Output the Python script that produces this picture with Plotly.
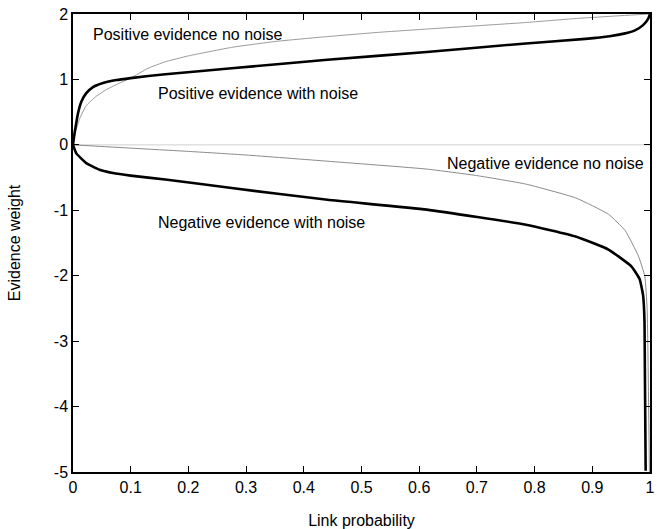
import plotly.graph_objects as go

# Positive evidence, no noise (thin gray)
pos_clean_x = [0, 0.002, 0.0046, 0.0115, 0.023, 0.04, 0.057, 0.077, 0.1, 0.13, 0.16, 0.2, 0.275, 0.35, 0.441, 0.53, 0.613, 0.7, 0.785, 0.87, 0.95, 1.0]
pos_clean_y = [0, 0.1, 0.2, 0.40, 0.60, 0.74, 0.84, 0.93, 1.02, 1.17, 1.27, 1.36, 1.49, 1.58, 1.655, 1.72, 1.77, 1.82, 1.87, 1.93, 1.975, 2.0]

# Positive evidence, with noise (thick black)
pos_noise_x = [0, 0.002, 0.0046, 0.0086, 0.0144, 0.023, 0.034, 0.052, 0.075, 0.1, 0.16, 0.275, 0.441, 0.613, 0.785, 0.888, 0.93, 0.955, 0.974, 0.988, 0.997, 1.0]
pos_noise_y = [0, 0.14, 0.28, 0.48, 0.66, 0.79, 0.88, 0.945, 0.99, 1.02, 1.08, 1.17, 1.30, 1.42, 1.55, 1.62, 1.66, 1.70, 1.75, 1.83, 1.93, 2.0]

# Negative evidence, no noise (thin gray)
neg_clean_x = [0, 0.1, 0.2, 0.3, 0.441, 0.613, 0.7, 0.785, 0.871, 0.928, 0.957, 0.98, 0.991, 0.995, 0.999]
neg_clean_y = [0, -0.05, -0.1, -0.155, -0.25, -0.37, -0.47, -0.6, -0.81, -1.06, -1.31, -1.70, -2.01, -2.5, -5]

# Negative evidence, with noise (thick black)
neg_noise_x = [0, 0.0058, 0.023, 0.046, 0.069, 0.1, 0.16, 0.275, 0.441, 0.613, 0.785, 0.871, 0.928, 0.968, 0.982, 0.988, 0.9905, 0.9925]
neg_noise_y = [0, -0.13, -0.28, -0.38, -0.43, -0.47, -0.53, -0.66, -0.84, -0.99, -1.22, -1.40, -1.60, -1.86, -2.05, -2.3, -2.7, -4.98]

zero_x = [0, 1]
zero_y = [0, 0]

x_ticks = [0, 0.1, 0.2, 0.3, 0.4, 0.5, 0.6, 0.7, 0.8, 0.9, 1]
x_labels = ["0", "0.1", "0.2", "0.3", "0.4", "0.5", "0.6", "0.7", "0.8", "0.9", "1"]
y_ticks = [-5, -4, -3, -2, -1, 0, 1, 2]
y_labels = ["-5", "-4", "-3", "-2", "-1", "0", "1", "2"]

labels = [
    ("Positive evidence no noise", 0.0316, 1.69),
    ("Positive evidence with noise", 0.143, 0.79),
    ("Negative evidence no noise", 0.645, -0.29),
    ("Negative evidence with noise", 0.143, -1.19),
]

FONT = "Liberation Sans, Arial, sans-serif"

fig = go.Figure()
fig.add_trace(go.Scatter(x=zero_x, y=zero_y, mode="lines",
                         line=dict(color="#d0d0d0", width=1), showlegend=False, hoverinfo="skip"))
for xs, ys, col, w in [
    (pos_clean_x, pos_clean_y, "#9a9a9a", 1),
    (neg_clean_x, neg_clean_y, "#8a8a8a", 1),
    (pos_noise_x, pos_noise_y, "black", 2.6),
    (neg_noise_x, neg_noise_y, "black", 2.6),
]:
    fig.add_trace(go.Scatter(x=xs, y=ys, mode="lines",
                             line=dict(color=col, width=w, shape="spline", smoothing=0.4),
                             showlegend=False, cliponaxis=True))

for text, x, y in labels:
    fig.add_annotation(x=x, y=y, text=text, showarrow=False, xanchor="left", yanchor="middle",
                       font=dict(family=FONT, size=16, color="black"))

axis_common = dict(showgrid=False, zeroline=False, showline=True, linecolor="black", linewidth=1.5,
                   mirror="ticks", ticks="inside", ticklen=6, tickwidth=1, tickcolor="black",
                   ticklabeloverflow="allow",
                   tickfont=dict(family=FONT, size=16, color="black"))

fig.update_xaxes(range=[0, 1], tickvals=x_ticks, ticktext=x_labels,
                 title=dict(text="Link probability", font=dict(family=FONT, size=16, color="black"), standoff=20),
                 **axis_common)
fig.update_yaxes(range=[-5, 2], tickvals=y_ticks, ticktext=y_labels,
                 title=dict(text="Evidence weight", font=dict(family=FONT, size=16, color="black"), standoff=29),
                 **axis_common)

fig.update_layout(width=657, height=529, margin=dict(l=73, r=2, t=14, b=56),
                  paper_bgcolor="white", plot_bgcolor="white", showlegend=False)

fig.write_html("out.html")
